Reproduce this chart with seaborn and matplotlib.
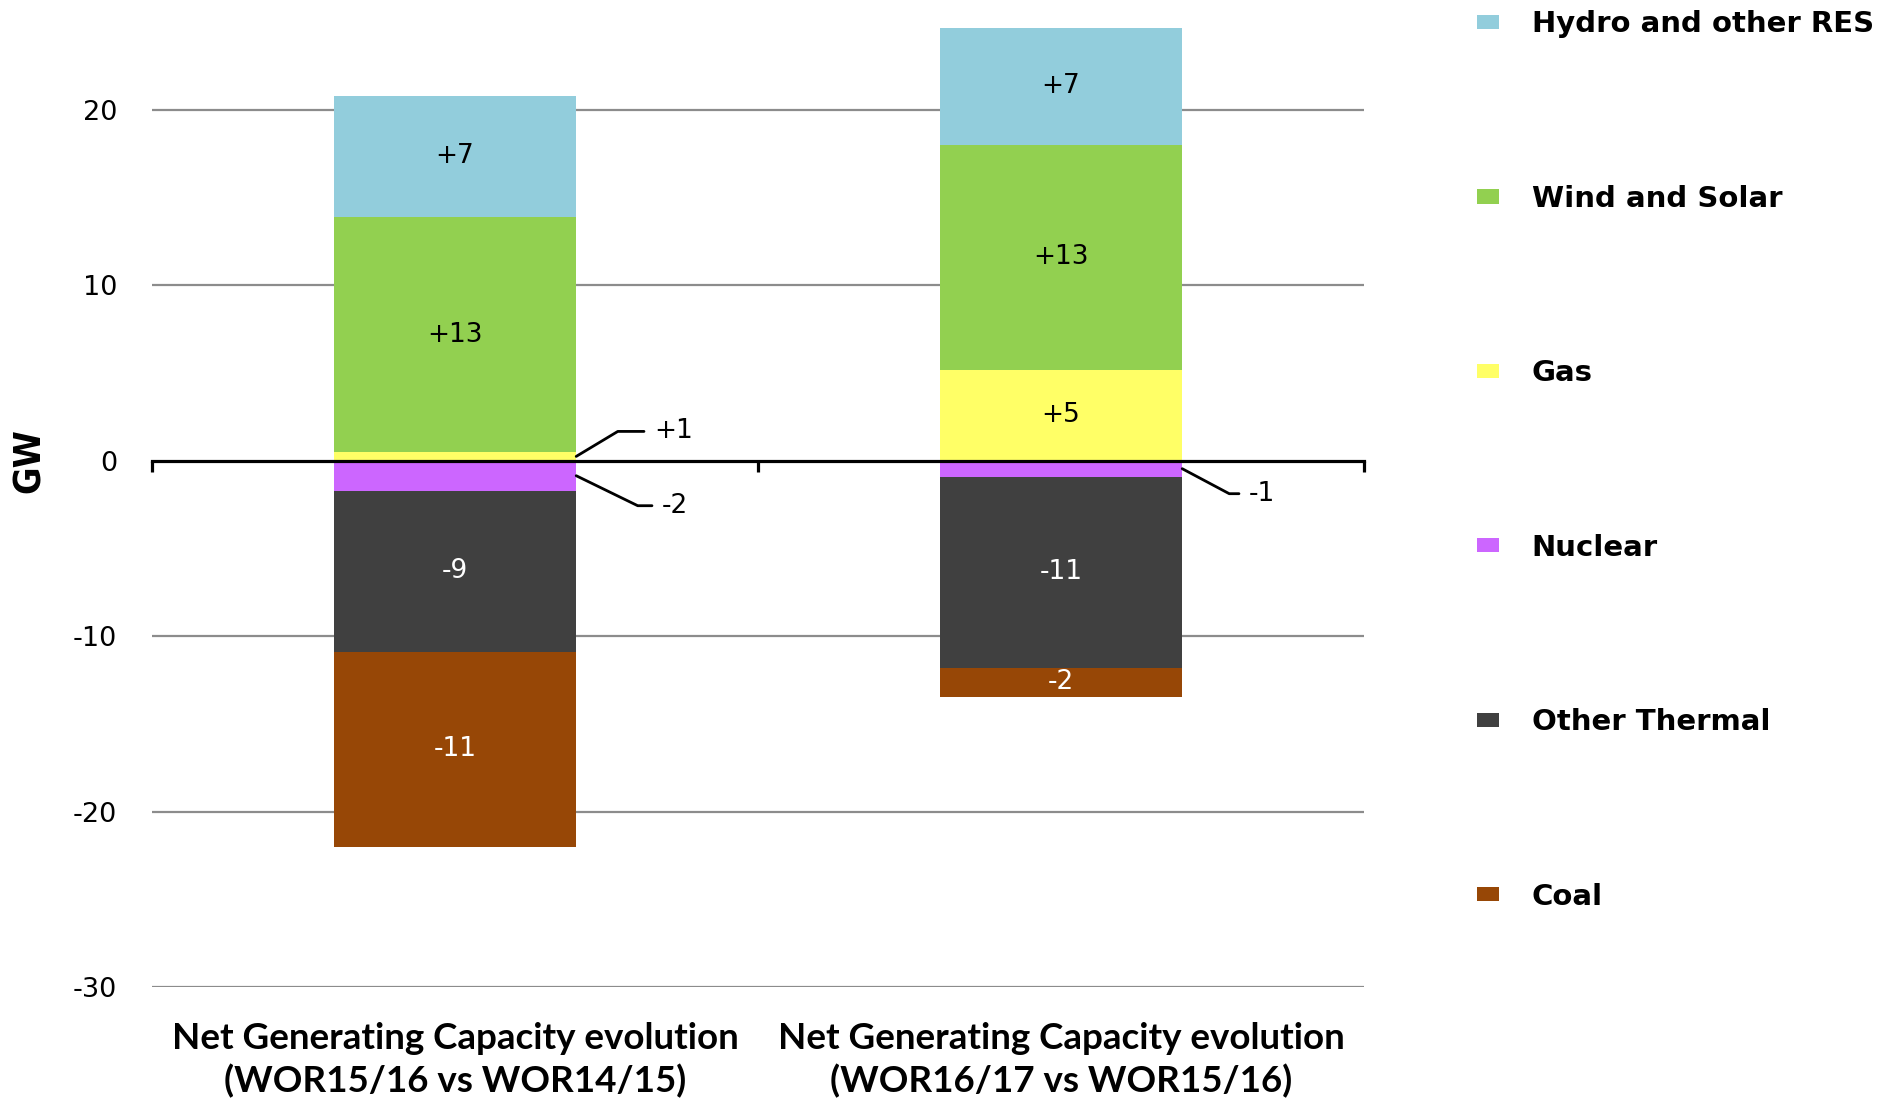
import matplotlib
matplotlib.use("Agg")
import matplotlib.pyplot as plt
import matplotlib.transforms as mtransforms
from matplotlib.patches import Patch
import seaborn as sns
import pandas as pd
import numpy as np

# ---------------- data ----------------
categories = ["Net Generating Capacity evolution\n(WOR15/16 vs WOR14/15)",
              "Net Generating Capacity evolution\n(WOR16/17 vs WOR15/16)"]
series_names = ["Hydro and other RES", "Wind and Solar", "Gas",
                "Nuclear", "Other Thermal", "Coal"]
hydro = [6.9, 6.7]
wind = [13.4, 12.8]
gas = [0.5, 5.2]
nuclear = [-1.7, -0.9]
other_thermal = [-9.2, -10.9]
coal = [-11.1, -1.65]

hydro_labels = ["+7", "+7"]
wind_labels = ["+13", "+13"]
gas_labels = ["+1", "+5"]
nuclear_labels = ["-2", "-1"]
other_labels = ["-9", "-11"]
coal_labels = ["-11", "-2"]

y_ticks = [-30, -20, -10, 0, 10, 20]
y_label = "GW"

# ---------------- style ----------------
sns.set_style("white")
plt.rcParams["font.family"] = ["DejaVu Sans"]
plt.rcParams["text.color"] = "black"
plt.rcParams["axes.labelcolor"] = "black"
plt.rcParams["xtick.color"] = "black"
plt.rcParams["ytick.color"] = "black"

colors = {"Hydro and other RES": "#92CDDC", "Wind and Solar": "#92D050",
          "Gas": "#FFFF66", "Nuclear": "#CC66FF",
          "Other Thermal": "#404040", "Coal": "#974706"}
text_colors = {"Hydro and other RES": "black", "Wind and Solar": "black",
               "Gas": "black", "Nuclear": "black",
               "Other Thermal": "white", "Coal": "white"}
# callouts: (series, bar index) -> (dx px, dy px, angle of leader)
callouts = {("Gas", 0): (78, 25, 31),
            ("Nuclear", 0): (86, -30, -26),
            ("Nuclear", 1): (67, -25, -28)}

W, H = 1888, 1098
fig = plt.figure(figsize=(W / 100, H / 100), dpi=100)
ax_left, ax_right = 152 / W, 1364 / W
ax_bottom, ax_top = (H - 987) / H, 1 - 22.3 / H
ax = fig.add_axes([ax_left, ax_bottom, ax_right - ax_left, ax_top - ax_bottom])

# stacking order: positives upward, negatives downward
stack = [("Gas", gas, gas_labels),
         ("Wind and Solar", wind, wind_labels),
         ("Hydro and other RES", hydro, hydro_labels),
         ("Nuclear", nuclear, nuclear_labels),
         ("Other Thermal", other_thermal, other_labels),
         ("Coal", coal, coal_labels)]

bar_w = 0.4
pos_base = np.zeros(len(categories))
neg_base = np.zeros(len(categories))
for name, vals, labels in stack:
    vals = np.array(vals, dtype=float)
    bottoms = np.where(vals >= 0, pos_base, neg_base)
    df = pd.DataFrame({"cat": categories, "val": vals})
    sns.barplot(data=df, x="cat", y="val", order=categories, bottom=bottoms,
                color=colors[name], saturation=1, width=bar_w, errorbar=None,
                linewidth=0, ax=ax, zorder=2)
    for i, (v, b, lbl) in enumerate(zip(vals, bottoms, labels)):
        center = b + v / 2
        if (name, i) in callouts:
            dx, dy, ang = callouts[(name, i)]
            ax.annotate(lbl, xy=(i + bar_w / 2, center), xytext=(dx, dy),
                        textcoords="offset pixels", ha="left", va="center",
                        fontsize=19, color="black", zorder=5,
                        arrowprops=dict(arrowstyle="-", color="black", lw=2,
                                        shrinkA=5, shrinkB=0, relpos=(0, 0.5),
                                        connectionstyle=f"angle,angleA=0,angleB={ang},rad=0"))
        else:
            ax.text(i, center, lbl, ha="center", va="center", fontsize=19,
                    color=text_colors[name], zorder=5)
    pos_base = pos_base + np.where(vals >= 0, vals, 0)
    neg_base = neg_base + np.where(vals < 0, vals, 0)

# axes styling
ax.set_xlim(-0.5, len(categories) - 0.5)
ax.set_ylim(-30, 25)
ax.set_yticks(y_ticks)
ax.set_yticklabels([str(t) for t in y_ticks], fontsize=19.5, color="black")
for t in y_ticks:
    if t != 0:
        ax.axhline(t, color="#8C8C8C", lw=1.6, zorder=0)
for s in ["top", "right", "left"]:
    ax.spines[s].set_visible(False)
ax.spines["bottom"].set_position(("data", 0))
ax.spines["bottom"].set_linewidth(2.3)
ax.spines["bottom"].set_color("black")
ax.spines["bottom"].set_zorder(4)
ax.set_xticks(np.arange(len(categories) + 1) - 0.5)
ax.set_xticklabels([])
ax.tick_params(axis="x", bottom=True, direction="out", length=8, width=2.3,
               color="black")
ax.tick_params(axis="y", left=False, length=0, pad=25)
ax.set_xlabel("")
ax.set_ylabel(y_label, fontsize=27, fontweight="bold", fontstretch="condensed",
              color="black")
ax.yaxis.set_label_coords(-0.086, 0,
                          transform=mtransforms.blended_transform_factory(ax.transAxes, ax.transData))

trans = mtransforms.blended_transform_factory(ax.transData, ax.transAxes)
for i, c in enumerate(categories):
    ax.text(i, -0.076, c, transform=trans, ha="center", va="center",
            fontsize=26.5, fontweight="bold", family=["Lato", "DejaVu Sans"],
            linespacing=1.33, color="black")

handles = [Patch(facecolor=colors[n], edgecolor="none", label=n) for n in series_names]
fig.legend(handles=handles, loc="upper left", bbox_to_anchor=(1477 / W, 1 - 10.5 / H),
           frameon=False, prop={"size": 21, "weight": "bold"},
           handlelength=0.75, handleheight=0.38, handletextpad=1.13,
           labelspacing=5.02, borderpad=0, borderaxespad=0, labelcolor="black")

fig.savefig("out.png", dpi=100)
